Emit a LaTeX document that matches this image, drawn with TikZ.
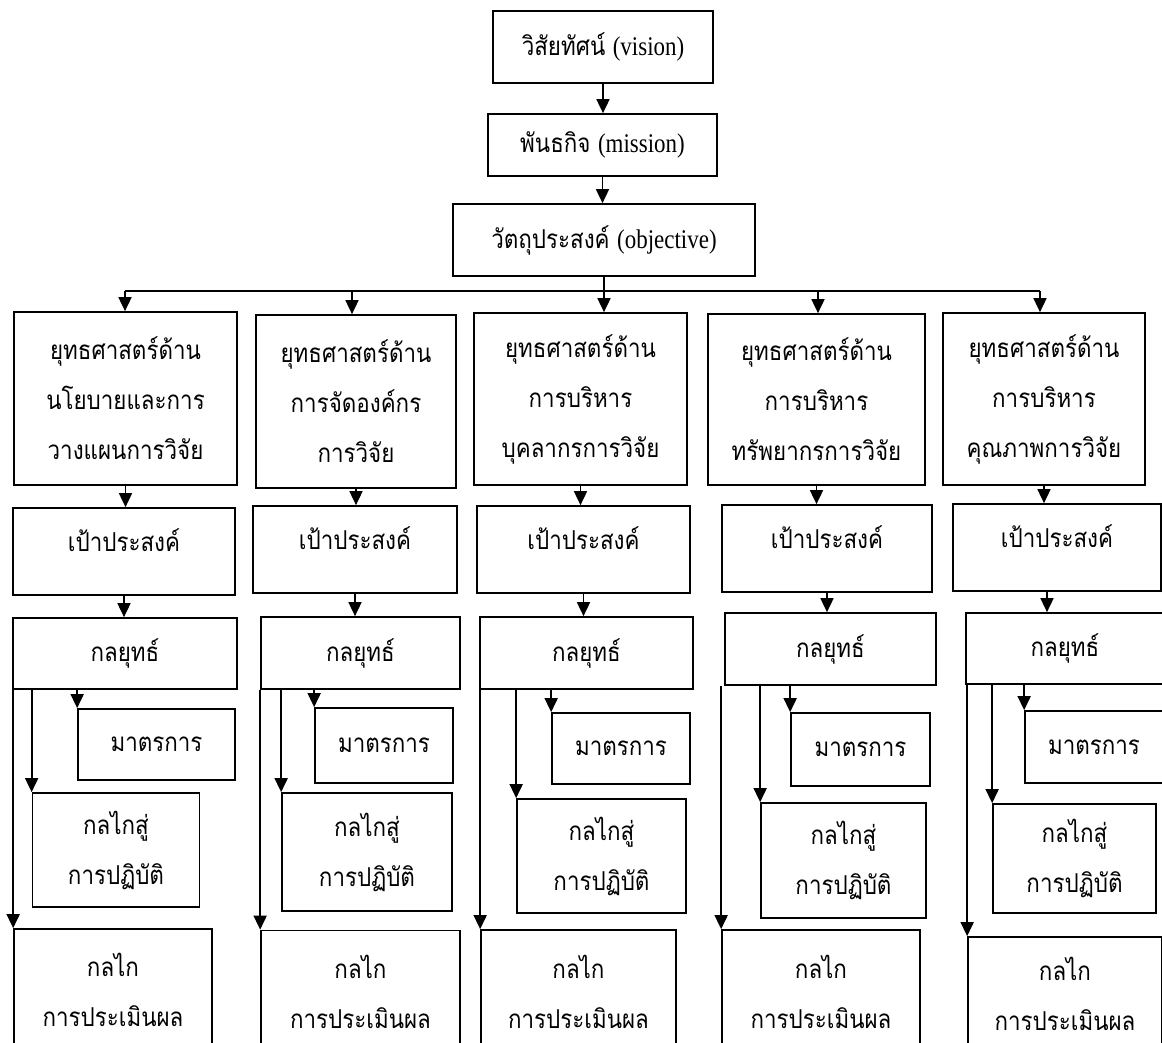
\documentclass[tikz,border=0pt]{standalone}
\usepackage{fontspec}
\setmainfont{Liberation Serif}[FakeStretch=0.85]
\newfontfamily\thaifont[Script=Thai,FakeStretch=0.86]{Loma}
\usetikzlibrary{arrows.meta}
\newcommand\thaitext{\thaifont\fontsize{26}{50}\selectfont}
\newcommand\lat[1]{{\rmfamily\fontsize{27}{30}\selectfont #1}}
\begin{document}
\begin{tikzpicture}[x=1pt,y=-1pt,
  box/.style={draw, line width=1.7pt, inner sep=0pt, align=center, font=\thaitext},
  one/.style={text height=20pt, text depth=20pt},
  ln/.style={line width=1.7pt},
  arr/.style={line width=1.7pt, -{Triangle[length=14pt,width=13pt]}}]
\useasboundingbox (0,0) rectangle (1162,1043);
\fill[white] (0,0) rectangle (1162,1043);
\clip (0,0) rectangle (1162,1043);
% top chain
\node[box, minimum width=220pt, minimum height=72pt] (vis) at (603,47) {วิสัยทัศน์ \lat{(vision)}};
\node[box, minimum width=229pt, minimum height=62pt] (mis) at (602.5,145) {พันธกิจ \lat{(mission)}};
\node[box, minimum width=302pt, minimum height=72pt] (obj) at (604,240) {วัตถุประสงค์ \lat{(objective)}};
\draw[arr] (vis.south) -- (vis.south |- mis.north);
\draw[arr] (mis.south) -- (mis.south |- obj.north);
% strategy boxes
\node[box, minimum width=223pt, minimum height=173pt] (S1) at (125.5,398.5) {ยุทธศาสตร์ด้าน\\นโยบายและการ\\วางแผนการวิจัย};
\node[box, minimum width=200pt, minimum height=173pt] (S2) at (356,401.5) {ยุทธศาสตร์ด้าน\\การจัดองค์กร\\การวิจัย};
\node[box, minimum width=213pt, minimum height=172pt] (S3) at (580.5,399) {ยุทธศาสตร์ด้าน\\การบริหาร\\บุคลากรการวิจัย};
\node[box, minimum width=217pt, minimum height=171pt] (S4) at (816.5,399.5) {ยุทธศาสตร์ด้าน\\การบริหาร\\ทรัพยากรการวิจัย};
\node[box, minimum width=202pt, minimum height=172pt] (S5) at (1044,399) {ยุทธศาสตร์ด้าน\\การบริหาร\\คุณภาพการวิจัย};
% bus
\coordinate (b1) at (125,291);
\coordinate (b2) at (352,291);
\coordinate (b4) at (818,291);
\coordinate (b5) at (1040,291);
\draw[ln] (b1) -- (b5);
\draw[arr] (obj.south) -- (obj.south |- S3.north);
\draw[arr] (b1) -- (b1 |- S1.north);
\draw[arr] (b2) -- (b2 |- S2.north);
\draw[arr] (b4) -- (b4 |- S4.north);
\draw[arr] (b5) -- (b5 |- S5.north);
% goals
\node[box, one, minimum width=222pt, minimum height=87pt] (G1) at (124,551.5) {เป้าประสงค์};
\node[box, one, minimum width=204pt, minimum height=87pt] (G2) at (355,549.5) {เป้าประสงค์};
\node[box, one, minimum width=213pt, minimum height=87pt] (G3) at (583.5,549.5) {เป้าประสงค์};
\node[box, one, minimum width=210pt, minimum height=87pt] (G4) at (827,548.5) {เป้าประสงค์};
\node[box, one, minimum width=208pt, minimum height=87pt] (G5) at (1057,547.5) {เป้าประสงค์};
\foreach \i in {1,...,5} {\draw[arr] (S\i.south) -- (S\i.south |- G\i.north);}
% tactics
\node[box, minimum width=224pt, minimum height=71pt] (T1) at (125,653.5) {กลยุทธ์};
\node[box, minimum width=199pt, minimum height=72pt] (T2) at (360.5,653) {กลยุทธ์};
\node[box, minimum width=213pt, minimum height=72pt] (T3) at (586.5,653) {กลยุทธ์};
\node[box, minimum width=211pt, minimum height=72pt] (T4) at (830.5,649) {กลยุทธ์};
\node[box, minimum width=198pt, minimum height=71pt] (T5) at (1065,648.5) {กลยุทธ์};
\foreach \i in {1,...,4} {\draw[arr] (G\i.south) -- (G\i.south |- T\i.north);}
\draw[arr] ([xshift=-10pt]G5.south) -- ([xshift=-10pt]G5.south |- T5.north);
% measures
\node[box, minimum width=157pt, minimum height=71pt] (M1) at (156.5,744.5) {มาตรการ};
\node[box, minimum width=138pt, minimum height=75pt] (M2) at (384,745.5) {มาตรการ};
\node[box, minimum width=138pt, minimum height=71pt] (M3) at (621,748.5) {มาตรการ};
\node[box, minimum width=139pt, minimum height=73pt] (M4) at (860.5,749.5) {มาตรการ};
\node[box, minimum width=138pt, minimum height=72pt] (M5) at (1094,747) {มาตรการ};
% implementation
\node[box, minimum width=167pt, minimum height=114pt] (I1) at (116,850) {กลไกสู่\\การปฏิบัติ};
\node[box, minimum width=170pt, minimum height=118pt] (I2) at (367,852) {กลไกสู่\\การปฏิบัติ};
\node[box, minimum width=169pt, minimum height=114pt] (I3) at (601.5,856) {กลไกสู่\\การปฏิบัติ};
\node[box, minimum width=165pt, minimum height=115pt] (I4) at (843.5,860.5) {กลไกสู่\\การปฏิบัติ};
\node[box, minimum width=163pt, minimum height=109pt] (I5) at (1074.5,858.5) {กลไกสู่\\การปฏิบัติ};
% evaluation
\node[box, minimum width=198pt, minimum height=122pt] (E1) at (113,990) {กลไก\\การประเมินผล};
\node[box, minimum width=199pt, minimum height=123pt] (E2) at (360.5,992) {กลไก\\การประเมินผล};
\node[box, minimum width=195pt, minimum height=124pt] (E3) at (578.5,992) {กลไก\\การประเมินผล};
\node[box, minimum width=198pt, minimum height=124pt] (E4) at (821,992) {กลไก\\การประเมินผล};
\node[box, minimum width=194pt, minimum height=114pt] (E5) at (1065,994) {กลไก\\การประเมินผล};
\foreach \i in {1,...,5} {
  \draw[arr] (T\i.south -| M\i.west) -- (M\i.north west);
  \draw[arr] (T\i.south -| I\i.west) -- (I\i.north west);
  \draw[arr] (T\i.south -| E\i.west) -- (E\i.north west);
}
\end{tikzpicture}
\end{document}
